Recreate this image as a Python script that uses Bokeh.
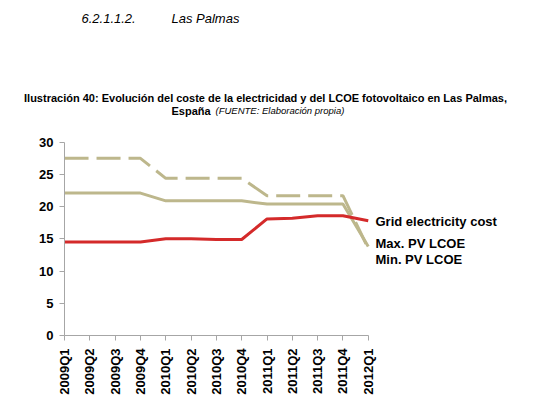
from bokeh.plotting import figure
from bokeh.models import Range1d, Label, FixedTicker, ColumnDataSource
from bokeh.embed import file_html
from bokeh.resources import INLINE

quarters = ["2009Q1", "2009Q2", "2009Q3", "2009Q4",
            "2010Q1", "2010Q2", "2010Q3", "2010Q4",
            "2011Q1", "2011Q2", "2011Q3", "2011Q4", "2012Q1"]
grid_cost = [14.5, 14.5, 14.5, 14.5, 15.0, 15.0, 14.9, 14.9, 18.1, 18.2, 18.6, 18.6, 17.8]
max_lcoe = [27.5, 27.5, 27.5, 27.5, 24.4, 24.4, 24.4, 24.4, 21.7, 21.7, 21.7, 21.7, 13.5]
min_lcoe = [22.1, 22.1, 22.1, 22.1, 20.9, 20.9, 20.9, 20.9, 20.4, 20.4, 20.4, 20.4, 13.8]
y_ticks = [0, 5, 10, 15, 20, 25, 30]
series_names = ["Grid electricity  cost", "Max. PV LCOE", "Min. PV LCOE"]

x = list(range(len(quarters)))
src = ColumnDataSource(dict(x=x, grid=grid_cost, mx=max_lcoe, mn=min_lcoe))

FONT = "Liberation Sans"
RED = "#d42a2a"
TAN = "#bdb78c"
AX = "#a6a6a6"

# the frame fills the whole canvas; both axes are pinned at 0 and bounded to the data area
p = figure(width=531, height=398, output_backend="svg", toolbar_location=None,
           x_range=Range1d(-2.53, 18.45), y_range=Range1d(-9.78, 52.0))
p.min_border_left = 0
p.min_border_right = 0
p.min_border_top = 0
p.min_border_bottom = 0
p.outline_line_color = None
p.grid.visible = False
p.background_fill_color = "white"

p.line("x", "mn", source=src, line_color=TAN, line_width=3)
p.line("x", "mx", source=src, line_color=TAN, line_width=3, line_dash="24 8")
p.line("x", "grid", source=src, line_color=RED, line_width=3)

xa = p.xaxis[0]
xa.ticker = FixedTicker(ticks=x)
xa.fixed_location = 0
xa.bounds = (0, 12)
xa.major_label_overrides = {i: q for i, q in enumerate(quarters)}
xa.major_label_orientation = 1.5708
xa.major_label_text_font = FONT
xa.major_label_text_font_style = "bold"
xa.major_label_text_font_size = "13px"
xa.major_label_text_color = "black"
xa.axis_line_color = AX
xa.major_tick_line_color = AX
xa.major_tick_in = 0
xa.major_tick_out = 5
xa.minor_tick_line_color = None
xa.major_label_standoff = 8

ya = p.yaxis[0]
ya.ticker = FixedTicker(ticks=y_ticks)
ya.fixed_location = 0
ya.bounds = (0, 30)
ya.major_label_text_font = FONT
ya.major_label_text_font_style = "bold"
ya.major_label_text_font_size = "13px"
ya.major_label_text_color = "black"
ya.axis_line_color = AX
ya.major_tick_line_color = AX
ya.major_tick_in = 0
ya.major_tick_out = 5
ya.minor_tick_line_color = None
ya.major_label_standoff = 6

def slabel(txt, xs, ys, size, style, align="left"):
    p.add_layout(Label(x=xs, y=ys, x_units="screen", y_units="screen", text=txt,
                       text_font=FONT, text_font_size=size, text_font_style=style,
                       text_baseline="middle", text_align=align, text_color="black"))

for name, ys in zip(series_names, [177, 155, 139]):
    slabel(name, 375, ys, "13px", "bold")

slabel("6.2.1.1.2.", 81, 380, "13px", "italic")
slabel("Las Palmas", 171, 380, "13px", "italic")
slabel("Ilustración 40: Evolución del coste de la electricidad y del LCOE fotovoltaico en Las Palmas,",
       265, 301, "11px", "bold", "center")
slabel("España", 171, 288, "11px", "bold")
slabel("(FUENTE: Elaboración propia)", 215, 288, "9.5px", "italic")

open("out.html", "w").write(file_html(p, INLINE))
